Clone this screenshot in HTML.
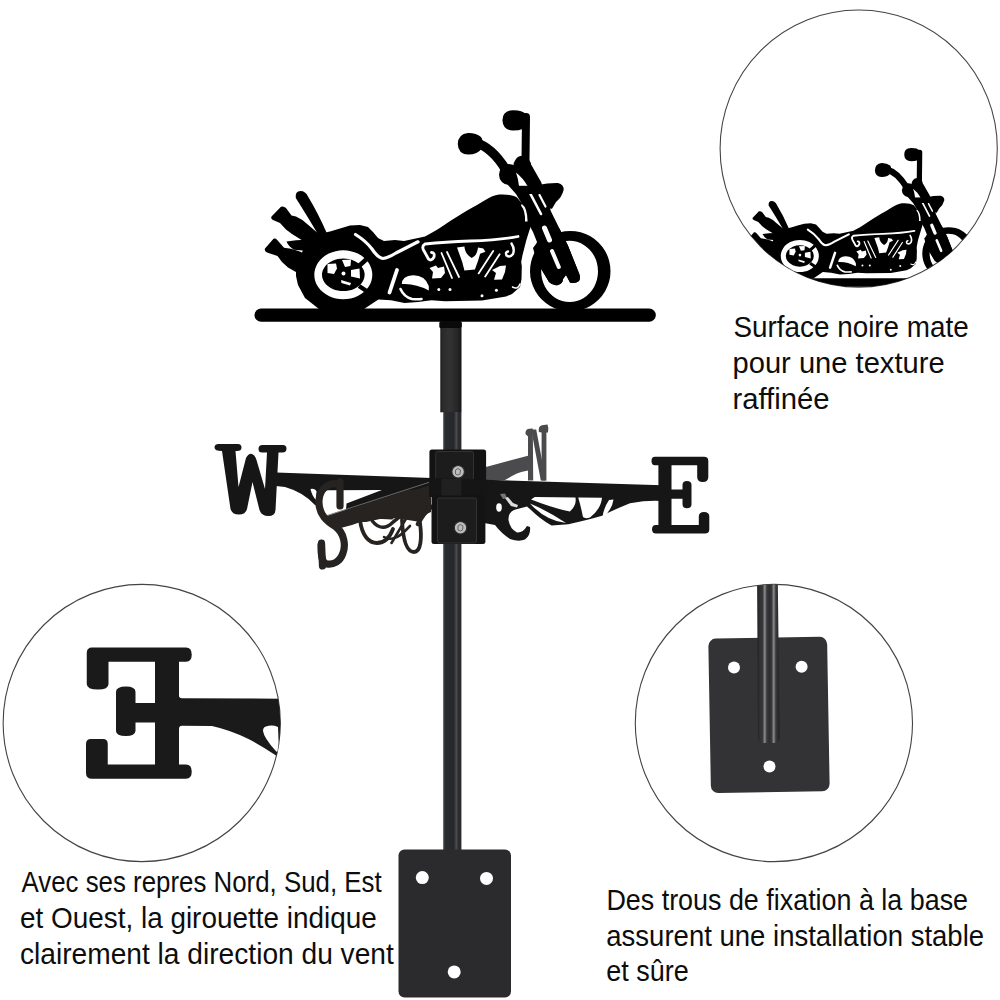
<!DOCTYPE html>
<html><head><meta charset="utf-8">
<style>
html,body{margin:0;padding:0;background:#fff;width:1000px;height:1000px;overflow:hidden}
svg{display:block}
text{font-family:"Liberation Sans",sans-serif;fill:#0d0d0d}
</style></head><body>
<svg width="1000" height="1000" viewBox="0 0 1000 1000">
<defs>
<clipPath id="c1"><circle cx="858.7" cy="148.6" r="138.6"/></clipPath>
<clipPath id="c2"><circle cx="141.75" cy="723" r="138.6"/></clipPath>
<clipPath id="c3"><circle cx="773.9" cy="723" r="138.6"/></clipPath>
</defs>

<!-- circle outlines -->
<circle cx="858.7" cy="148.6" r="138.6" fill="none" stroke="#444" stroke-width="1.1"/>
<circle cx="141.75" cy="723" r="138.6" fill="none" stroke="#444" stroke-width="1.1"/>
<circle cx="773.9" cy="723" r="138.6" fill="none" stroke="#444" stroke-width="1.1"/>

<!-- main motorcycle -->
<g>
  <rect x="254.5" y="308.6" width="401.3" height="13.2" rx="6.6" fill="#000"/>
  <g fill="#000">
    <!-- sissy bar -->
    <path d="M295.8,198 Q295,191 300.5,191 Q305.5,191 308,196.5 Q318,213 326.5,232.5 L319,236 Q306,214 295.8,198 Z"/>
    <!-- upper exhaust -->
    <path d="M271.5,216.5 L281,206.8 Q283.5,205.8 286,208 L291.5,215.5 L296,216.5 Q303,219.5 308,224.8 L318,233.2 L324,236 L314,248 L304,241.5 L292,234 L286,229.5 L280,223 L273,220 Q270.5,218.5 271.5,216.5 Z"/>
    <!-- blade -->
    <path d="M286.5,241.5 Q296,239.8 306,239.8 L314,242 L308,251 L294,249.8 Q288.5,246.5 286.5,241.5 Z"/>
    <!-- lower exhaust -->
    <path d="M265,248.5 L273.5,238.8 Q275.5,238 277,239.8 L284,247.8 L291,248.8 Q298,250.5 304,253.5 L314,260 L303,276 L288,267.5 L282,262 L277.5,256 L267,252.5 Q264,251 265,248.5 Z"/>
    <!-- main body -->
    <path d="M303,250 L310,240 L318,234 L330,231.5 L340,228.5 L350,225.5 L360,225 L368,227 L373,232 L378,238 L384,241 L395,240 L404,241 L425,236.5 C440,229 452,219 468,210 C482,203 490,195.5 499,194.5 C507,194 513,195 517,197.5 L522.5,204 L525.5,212 L526.5,222 L531.5,223 L524.4,242 L520.5,258 L521.8,266 L521.5,279 L520,287 L512,294 L506,296.5 L482,300.6 L445,301.2 L431.5,300.3 L418,302.1 L404.5,303 L391,300.3 L378.4,299.4 L364,309 L319,309 L305,298 L298,285 L296,276 L296,268 Z"/>
    <!-- grips -->
    <path d="M502.5,121 Q502,110.5 513,110.2 Q522,110 526,114 Q530,117 528,124 Q525,130.5 513,130.6 Q503,130 502.5,121 Z"/>
    <path d="M457.8,144 Q458,134 468,133 Q476,132.8 481,137 Q484,141 482,148 Q478,154.6 468,154.6 Q458,154 457.8,144 Z"/>
  </g>
  <g stroke="#000" fill="none" stroke-linecap="round">
    <path d="M526,117 L525.5,160" stroke-width="8"/>
    <path d="M475,142.5 Q492,147 506,170" stroke-width="9.5"/>
    <path d="M527,223 Q516,255 512.8,286" stroke-width="9"/>
  </g>
  <g fill="#000">
    <ellipse cx="509" cy="174.5" rx="10" ry="10.5"/>
    <ellipse cx="522.3" cy="166.8" rx="9" ry="11"/>
    <!-- headlight -->
    <path d="M538,185 Q548,182.8 558,183 Q564,184.5 563.6,190 Q562,197 556,202 L552,208.8 Q547,209 543,205 L538,196 Z"/>
    <!-- fork -->
    <path d="M500,176 L516,194 L522,204 L527.6,222 L533,232 L537,242 L535,250 L537,262 L549,282 Q553,286 558,285 Q563,283.5 563,279 L566,275 L570,282.5 Q575,284 579,281 Q581,277.5 579,273.2 L567.8,245.2 L559.4,228.4 L551,211.6 L541.2,182.2 L531.4,165 Z"/>
  </g>
  <!-- front wheel -->
  <path fill="#000" fill-rule="evenodd" d="M570.25,230.9 a40.25,40.25 0 1,0 0.01,0 Z M569.6,240.8 a28.4,30.6 0 1,0 0.01,0 Z"/>
  <!-- fork over wheel (lower legs) -->
  <path fill="#000" d="M533,248 L537,262 L549,282 Q553,286 558,285 Q563,283.5 563,279 L566,275 L570,282.5 Q575,284 579,281 Q581,277.5 579,273.2 L567.8,245.2 L559.4,228.4 L545,232 Z"/>
  <!-- fork white stripes -->
  <g stroke="#fff" fill="none" stroke-linecap="round">
    <path d="M530.5,194 L541,214" stroke-width="2.6"/>
    <path d="M539.5,195 L545.5,206.5" stroke-width="2.2"/>
    <path d="M544.5,228 L549.5,240" stroke-width="5"/>
    <path d="M552,251 L558.8,267" stroke-width="4"/>
  </g>
  <path fill="#fff" d="M521.8,204 Q527.5,208 527.6,221.5 L525,221.5 Q525.5,211 521,205.5 Z"/>
  <path fill="#fff" d="M516,172.5 Q523,178 527.5,186 L519,186 Q518,178 516,172.5 Z"/>
  <rect x="518" y="185.8" width="26" height="8.2" fill="#000"/>
  <!-- rear wheel ring -->
  <path fill="#fff" fill-rule="evenodd" d="M343.3,250.3 a29,24.5 0 1,0 0.01,0 Z M343.3,258.5 a21.3,16.3 0 1,0 0.01,0 Z"/>
  <g stroke="#000" stroke-width="4.5">
    <path d="M359.5,265.5 L369.5,256.5"/>
    <path d="M359,286 L371,294"/>
  </g>
  <!-- rear hub cutouts -->
  <g fill="#fff">
    <circle cx="343.5" cy="273.5" r="2"/>
    <path d="M342,260 L351,259.6 L350.5,266 L345,267 Z"/>
    <path d="M327.5,264 L336,263.5 L337,268.5 L334,274 L327.5,273 Z"/>
    <path d="M351,270 L359.5,268.5 L360,278.5 L351,276.5 Z"/>
    <path d="M341,280 L351,283 L350,285.5 L341.5,283 Z"/>
  </g>
  <!-- seat line, tank line, curls -->
  <g fill="none" stroke="#fff" stroke-linecap="round" stroke-linejoin="round">
    <path d="M355.5,234.5 Q366,241 372,249 Q378,258 383,258.5 Q388,258 396,253 L418,241.8" stroke-width="3.2"/>
    <path d="M518,236.5 Q500,240 470,241 Q445,241.8 425,244 Q421.5,246 423.5,250 L428.6,259.2 Q431.5,261.5 434,257 Q435,252.5 431.5,252.5" stroke-width="2.8"/>
    <path d="M511.5,243.5 Q515,249 513,254 Q510,258 506.5,255.5 Q505,252 508,251.5" stroke-width="2.4"/>
    <path d="M441.5,253 L452,278" stroke-width="1.8"/>
    <path d="M447,252 L459,277" stroke-width="1.8"/>
    <path d="M493.2,251 L478.6,273.4" stroke-width="1.8"/>
    <path d="M499.6,254.2 L485.2,276.6" stroke-width="1.8"/>
    <path d="M397,270 L389.5,292.5" stroke-width="3.8"/>
    <path d="M400.5,289 Q404,297 412,299 Q418,299.5 421.5,299" stroke-width="2.6"/>
    <path d="M512.5,287 Q518,290 520,284" stroke-width="1.6"/>
  </g>
  <g fill="#fff">
    <path d="M401.8,284 Q402,276 413,275.2 Q425,275 428.8,286 L428.8,290.4 Q415,283 401.8,284 Z"/>
    <path d="M457,247.5 L464.4,246.4 Q465,254 471.7,258 Q477,256 478,247.5 L483.3,248.5 L485.4,251.7 L480.1,253.8 L478,261.1 L474.9,269.5 L464.4,270.6 L462.3,262.2 Z"/>
    <path d="M429.5,268 L436,265.5 L438,268 L444,266.5 L445,273 L441,278 L432,278.5 L433,272 Z"/>
    <path d="M492,270 L500,266 L506,265.5 L505,272 L502,279.5 L494,279.8 L496,273 Z"/>
    <circle cx="438.8" cy="289.4" r="1.5"/>
    <circle cx="450" cy="289.4" r="1.5"/>
    <circle cx="482" cy="295.8" r="1.5"/>
    <circle cx="496.4" cy="290.2" r="1.5"/>
  </g>
  
</g>
<!-- inset motorcycle -->
<g clip-path="url(#c1)">
  <g transform="translate(574.6,75.7) scale(0.656)">
  <rect x="254.5" y="308.6" width="401.3" height="13.2" rx="6.6" fill="#000"/>
  <g fill="#000">
    <!-- sissy bar -->
    <path d="M295.8,198 Q295,191 300.5,191 Q305.5,191 308,196.5 Q318,213 326.5,232.5 L319,236 Q306,214 295.8,198 Z"/>
    <!-- upper exhaust -->
    <path d="M271.5,216.5 L281,206.8 Q283.5,205.8 286,208 L291.5,215.5 L296,216.5 Q303,219.5 308,224.8 L318,233.2 L324,236 L314,248 L304,241.5 L292,234 L286,229.5 L280,223 L273,220 Q270.5,218.5 271.5,216.5 Z"/>
    <!-- blade -->
    <path d="M286.5,241.5 Q296,239.8 306,239.8 L314,242 L308,251 L294,249.8 Q288.5,246.5 286.5,241.5 Z"/>
    <!-- lower exhaust -->
    <path d="M265,248.5 L273.5,238.8 Q275.5,238 277,239.8 L284,247.8 L291,248.8 Q298,250.5 304,253.5 L314,260 L303,276 L288,267.5 L282,262 L277.5,256 L267,252.5 Q264,251 265,248.5 Z"/>
    <!-- main body -->
    <path d="M303,250 L310,240 L318,234 L330,231.5 L340,228.5 L350,225.5 L360,225 L368,227 L373,232 L378,238 L384,241 L395,240 L404,241 L425,236.5 C440,229 452,219 468,210 C482,203 490,195.5 499,194.5 C507,194 513,195 517,197.5 L522.5,204 L525.5,212 L526.5,222 L531.5,223 L524.4,242 L520.5,258 L521.8,266 L521.5,279 L520,287 L512,294 L506,296.5 L482,300.6 L445,301.2 L431.5,300.3 L418,302.1 L404.5,303 L391,300.3 L378.4,299.4 L364,309 L319,309 L305,298 L298,285 L296,276 L296,268 Z"/>
    <!-- grips -->
    <path d="M502.5,121 Q502,110.5 513,110.2 Q522,110 526,114 Q530,117 528,124 Q525,130.5 513,130.6 Q503,130 502.5,121 Z"/>
    <path d="M457.8,144 Q458,134 468,133 Q476,132.8 481,137 Q484,141 482,148 Q478,154.6 468,154.6 Q458,154 457.8,144 Z"/>
  </g>
  <g stroke="#000" fill="none" stroke-linecap="round">
    <path d="M526,117 L525.5,160" stroke-width="8"/>
    <path d="M475,142.5 Q492,147 506,170" stroke-width="9.5"/>
    <path d="M527,223 Q516,255 512.8,286" stroke-width="9"/>
  </g>
  <g fill="#000">
    <ellipse cx="509" cy="174.5" rx="10" ry="10.5"/>
    <ellipse cx="522.3" cy="166.8" rx="9" ry="11"/>
    <!-- headlight -->
    <path d="M538,185 Q548,182.8 558,183 Q564,184.5 563.6,190 Q562,197 556,202 L552,208.8 Q547,209 543,205 L538,196 Z"/>
    <!-- fork -->
    <path d="M500,176 L516,194 L522,204 L527.6,222 L533,232 L537,242 L535,250 L537,262 L549,282 Q553,286 558,285 Q563,283.5 563,279 L566,275 L570,282.5 Q575,284 579,281 Q581,277.5 579,273.2 L567.8,245.2 L559.4,228.4 L551,211.6 L541.2,182.2 L531.4,165 Z"/>
  </g>
  <!-- front wheel -->
  <path fill="#000" fill-rule="evenodd" d="M570.25,230.9 a40.25,40.25 0 1,0 0.01,0 Z M569.6,240.8 a28.4,30.6 0 1,0 0.01,0 Z"/>
  <!-- fork over wheel (lower legs) -->
  <path fill="#000" d="M533,248 L537,262 L549,282 Q553,286 558,285 Q563,283.5 563,279 L566,275 L570,282.5 Q575,284 579,281 Q581,277.5 579,273.2 L567.8,245.2 L559.4,228.4 L545,232 Z"/>
  <!-- fork white stripes -->
  <g stroke="#fff" fill="none" stroke-linecap="round">
    <path d="M530.5,194 L541,214" stroke-width="2.6"/>
    <path d="M539.5,195 L545.5,206.5" stroke-width="2.2"/>
    <path d="M544.5,228 L549.5,240" stroke-width="5"/>
    <path d="M552,251 L558.8,267" stroke-width="4"/>
  </g>
  <path fill="#fff" d="M521.8,204 Q527.5,208 527.6,221.5 L525,221.5 Q525.5,211 521,205.5 Z"/>
  <path fill="#fff" d="M516,172.5 Q523,178 527.5,186 L519,186 Q518,178 516,172.5 Z"/>
  <rect x="518" y="185.8" width="26" height="8.2" fill="#000"/>
  <!-- rear wheel ring -->
  <path fill="#fff" fill-rule="evenodd" d="M343.3,250.3 a29,24.5 0 1,0 0.01,0 Z M343.3,258.5 a21.3,16.3 0 1,0 0.01,0 Z"/>
  <g stroke="#000" stroke-width="4.5">
    <path d="M359.5,265.5 L369.5,256.5"/>
    <path d="M359,286 L371,294"/>
  </g>
  <!-- rear hub cutouts -->
  <g fill="#fff">
    <circle cx="343.5" cy="273.5" r="2"/>
    <path d="M342,260 L351,259.6 L350.5,266 L345,267 Z"/>
    <path d="M327.5,264 L336,263.5 L337,268.5 L334,274 L327.5,273 Z"/>
    <path d="M351,270 L359.5,268.5 L360,278.5 L351,276.5 Z"/>
    <path d="M341,280 L351,283 L350,285.5 L341.5,283 Z"/>
  </g>
  <!-- seat line, tank line, curls -->
  <g fill="none" stroke="#fff" stroke-linecap="round" stroke-linejoin="round">
    <path d="M355.5,234.5 Q366,241 372,249 Q378,258 383,258.5 Q388,258 396,253 L418,241.8" stroke-width="3.2"/>
    <path d="M518,236.5 Q500,240 470,241 Q445,241.8 425,244 Q421.5,246 423.5,250 L428.6,259.2 Q431.5,261.5 434,257 Q435,252.5 431.5,252.5" stroke-width="2.8"/>
    <path d="M511.5,243.5 Q515,249 513,254 Q510,258 506.5,255.5 Q505,252 508,251.5" stroke-width="2.4"/>
    <path d="M441.5,253 L452,278" stroke-width="1.8"/>
    <path d="M447,252 L459,277" stroke-width="1.8"/>
    <path d="M493.2,251 L478.6,273.4" stroke-width="1.8"/>
    <path d="M499.6,254.2 L485.2,276.6" stroke-width="1.8"/>
    <path d="M397,270 L389.5,292.5" stroke-width="3.8"/>
    <path d="M400.5,289 Q404,297 412,299 Q418,299.5 421.5,299" stroke-width="2.6"/>
    <path d="M512.5,287 Q518,290 520,284" stroke-width="1.6"/>
  </g>
  <g fill="#fff">
    <path d="M401.8,284 Q402,276 413,275.2 Q425,275 428.8,286 L428.8,290.4 Q415,283 401.8,284 Z"/>
    <path d="M457,247.5 L464.4,246.4 Q465,254 471.7,258 Q477,256 478,247.5 L483.3,248.5 L485.4,251.7 L480.1,253.8 L478,261.1 L474.9,269.5 L464.4,270.6 L462.3,262.2 Z"/>
    <path d="M429.5,268 L436,265.5 L438,268 L444,266.5 L445,273 L441,278 L432,278.5 L433,272 Z"/>
    <path d="M492,270 L500,266 L506,265.5 L505,272 L502,279.5 L494,279.8 L496,273 Z"/>
    <circle cx="438.8" cy="289.4" r="1.5"/>
    <circle cx="450" cy="289.4" r="1.5"/>
    <circle cx="482" cy="295.8" r="1.5"/>
    <circle cx="496.4" cy="290.2" r="1.5"/>
  </g>
  
</g>
</g>

<!-- pole -->
<linearGradient id="poleg" x1="0" x2="1" y1="0" y2="0">
  <stop offset="0" stop-color="#48484c"/>
  <stop offset="0.12" stop-color="#2a2d30"/>
  <stop offset="0.58" stop-color="#26272a"/>
  <stop offset="0.72" stop-color="#4c4c50"/>
  <stop offset="0.84" stop-color="#2c2c30"/>
  <stop offset="0.94" stop-color="#2a2a2d"/>
  <stop offset="1" stop-color="#4c4c50"/>
</linearGradient>
<linearGradient id="sleeveg" x1="0" x2="1" y1="0" y2="0">
  <stop offset="0" stop-color="#1a1a1a"/>
  <stop offset="0.1" stop-color="#2a2a2a"/>
  <stop offset="0.45" stop-color="#333"/>
  <stop offset="0.8" stop-color="#262626"/>
  <stop offset="1" stop-color="#161616"/>
</linearGradient>
<rect x="439.3" y="321" width="22.6" height="7.5" rx="2" fill="#0a0a0a"/>
<rect x="440.3" y="328" width="21.2" height="84.3" fill="url(#sleeveg)"/>
<rect x="443.2" y="412" width="18.3" height="440" fill="url(#poleg)"/>

<!-- base plate -->
<rect x="398.5" y="849.5" width="112.5" height="148" rx="6" fill="#2b2b2d"/>
<circle cx="422.3" cy="877.6" r="6.5" fill="#fff"/>
<circle cx="486.5" cy="878.4" r="6.5" fill="#fff"/>
<circle cx="454.2" cy="971.9" r="6.5" fill="#fff"/>

<!-- compass -->
<g id="compass">
  <!-- N arm (far, gray) -->
  <g fill="#4b4b4d">
    <path d="M484,467.5 L528,455.8 L533,456 L533,470 Q520,471 512,476 L505,480 L484,481 Z"/>
    <path d="M528,436.5 L525.5,434 Q525,429.5 529,428.8 L532.8,428.6 L533.2,480.6 L528,480.6 Z"/>
    <path d="M531.2,429.4 L536.2,429.4 L545.8,480.6 L540.8,480.6 Z"/>
    <path d="M541.6,432.6 L538.8,432 Q538,426 542,425.2 L547.5,424.6 Q549,428 548,432.6 L546.4,432.6 L546.4,480.6 L541.6,480.6 Z"/>
  </g>
  <!-- W letter -->
  <path fill="#161616" d="M214.5,447.5 Q214.5,444 218.5,444 L238,444 Q241.5,444 241.5,447.5 Q241.5,451 237,451 L235.5,451 L238.5,487 L246,458 Q249,453 252,454 Q255,455 256.5,460 L265,489 L267,452.5 L262,452.5 Q258.5,452.5 258.5,449 Q258.5,445 262.5,445 L283,445 Q286.5,445 286.5,448.5 Q286.5,452.5 282.5,452.5 L278.5,452.5 L275.5,510 Q275,516 268.5,516 Q261.5,516 259.5,510 L252.5,482 L247,509 Q245.5,514.5 239,514.5 Q232,514.5 230.5,509 L222,451 Q214.5,451 214.5,447.5 Z"/>
  <!-- W arm -->
  <path fill="#161616" d="M276,472.6 L432,478 L432,491.5 L384,490 L327,490.3 Q320,492.5 318,506 L315,505 Q303,492 285,487 L276,486 Z"/>
  <path fill="#fff" d="M310.5,489 Q314,488 316.5,491 L316,500 Q312,496 310.5,489 Z"/>
  <!-- S arm -->
  <g fill="#262321">
    <path d="M322,517.5 L432,481.5 L432,497 L418,502 Q400,508 380,515 L352,525 L335,529.5 Z"/>
  </g>
  <path fill="#161616" d="M384.5,489 L431,489.5 L431,482.5 L346,510 L346.5,503.5 Z"/>
  <path d="M322.5,517 L430,482" stroke="#707070" stroke-width="0.9" fill="none"/>
  <g fill="none" stroke="#262321" stroke-linecap="round" stroke-width="7.2">
    <path d="M338,484 C330,482 320,488 319,500 C318,515 328,522 336,527 C344,533 346,545 343,553 C340,562 333,565 327,564 C322,563 321,556 321,545"/>
    <path d="M340,481.5 L340,506"/>
    <path d="M321.5,543 L322.5,566"/>
  </g>
  <path fill="#262321" d="M352,508 L431,485 L431,512 Q424,514 420,522 L402,519 Q392,517 380,519 L366,522 L358,522 Z"/>
  <g fill="none" stroke="#262321" stroke-linecap="round">
    <path d="M360,520 C362,536 369,543 377,543 C385,543 390,537 393,529" stroke-width="3.8"/>
    <path d="M370,517 C375,527 384,531 392,523 C396,519 401,516 406,514" stroke-width="3.4"/>
    <path d="M391.5,543 L416,502" stroke-width="2.6"/>
    <path d="M402,520 C403,540 407,552 414,552 C421,552 422,538 420,523" stroke-width="3.8"/>
    <path d="M384,537 C390,541 398,538 405,531 L410,526" stroke-width="2.6"/>
    <path d="M418,524 C422,516 426,511 431,507" stroke-width="4.5"/>
    <path d="M360,519 L372,517 L392,518" stroke-width="3"/>
  </g>
  <!-- E letter -->
  <path fill="#161616" d="M655,456.8 L704,456.8 Q708.3,456.8 708.3,461 L708.3,477 Q708.3,482 702.8,482 Q697.2,482 697.2,477 L697.2,465.2 L671.5,465.2 L671.5,489.4 L682.5,489.4 L682.5,485 Q682.5,481 687,481 Q691.5,481 691.5,485 L691.5,504 Q691.5,508.3 687,508.3 Q682.5,508.3 682.5,504 L682.5,498.8 L671.5,498.8 L671.5,525 L698.8,525 L698.8,516.5 Q698.8,512 704,512 Q709.3,512 709.3,516.5 L709.3,529.5 Q709.3,533.5 705,533.5 L656,533.5 Q652,533.5 652,529.3 Q652,525 656,525 L658.4,525 L658.4,465.2 L655,465.2 Q651.5,465.2 651.5,461 Q651.5,456.8 655,456.8 Z"/>
  <!-- E arm + filigree -->
  <path fill="#161616" d="M484,479.8 L662,485.3 L662,501 Q648,500 630,503.2 Q616,508.8 602,515.8 Q588,520 568.4,524.2 L551.6,525.6 Q540,519 531,510 L527,506.5 Q520,508 514,510 Q508,513 508.5,520 Q510,529 517,532.5 Q523,533 527,526 L530,527 Q531,535 525,539.5 Q519,542 510,539 Q501,533 495,525 L484,523 Z"/>
  <g fill="#fff">
    <path d="M534.8,496.9 L575.4,497.6 Q577,505 569.8,511.6 Q553,508 531,499.5 Z"/>
    <path d="M530,503.5 Q548,511 566,523 Q546,521 530,503.5 Z"/>
    <path d="M578.2,497.6 L602,497.8 Q601,509 590,517.5 Q585,519 583,517 Q581,507 578.2,497.6 Z"/>
    <path d="M609,500 L613.5,499.5 Q612,510 602.5,518 Q603,509 609,500 Z"/>
    <ellipse cx="499" cy="507.5" rx="2.8" ry="4.2"/>
  </g>
  <path fill="#777" d="M500,494 L505,493.5 L507,498 L503,499 Z"/>
  <path fill="#ddd" d="M505,498 L508,497 L513,503 L518,505 L517,507.5 L511,506 Z"/>
  <!-- mount blocks -->
  <rect x="429.4" y="449.4" width="56.7" height="30.8" rx="2.5" fill="#131313"/>
  <rect x="435.7" y="451.5" width="37.8" height="28" rx="2" fill="#1c1c1c" stroke="#3a3a3a" stroke-width="0.8"/>
  <path d="M429,478 L487,479.5 L487,497 L429,497 Z" fill="#151515"/>
  <rect x="441.5" y="479" width="20" height="18" fill="#202020"/>
  <rect x="431.5" y="495.6" width="53.9" height="48.4" rx="2.5" fill="#131313"/>
  <rect x="437.5" y="498" width="39" height="45" rx="2" fill="#1c1c1c" stroke="#3a3a3a" stroke-width="0.8"/>
  <circle cx="458.1" cy="471.8" r="6.3" fill="#bdbdbd" stroke="#2a2a2a" stroke-width="1.2"/>
  <circle cx="460.5" cy="527.8" r="6.3" fill="#bdbdbd" stroke="#2a2a2a" stroke-width="1.2"/>
  <path d="M455.5,470 Q458,467 460.5,470 L460,474 Q458,476 455.5,474 Z" fill="none" stroke="#666" stroke-width="1"/>
  <path d="M458,526 Q460.5,523 463,526 L462.5,530 Q460.5,532 458,530 Z" fill="none" stroke="#666" stroke-width="1"/>
</g>

<!-- circle 2 inset: reversed E -->
<g clip-path="url(#c2)" fill="#1a1a1a">
  <path d="M86.75,653 Q86.75,647.5 92,647.5 L186,647.5 Q191.75,647.5 191.75,654.6 Q191.75,661.75 186,661.75 L179,661.75 L179,695.5 Q179,698.2 182,698.2 L300,698.8 L300,760 L276,755.6 Q262,746 248,738.8 Q230,730 212,726 L182,725.8 Q179,725.8 179,729 L179,764.5 L186,764.5 Q191.75,764.5 191.75,771.6 Q191.75,778.75 186,778.75 L92,778.75 Q86,778.75 86,773 L86,744 Q86,739 91,739 L103,739 Q107.75,739 107.75,744 L107.75,764.5 L155,764.5 L155,722.5 L135.5,722.5 L135.5,731 Q135,736 126,736 Q116,736 116,731 L116,692 Q116,686.5 126,686.5 Q135.5,686.5 135.5,692 L135.5,703 L155,703 L155,661.75 L108.5,661.75 L108.5,684 Q108.5,689.5 98,689.5 Q86.75,689.5 86.75,684 Z"/>
  <path fill="#fff" d="M266,726.5 Q272,724.5 278,727 L279,752 Q276,752 275.6,750.8 Q264,738 263,731 Q263,727 266,726.5 Z"/>
</g>

<!-- circle 3 inset: base plate -->
<g clip-path="url(#c3)">
  <rect x="709.6" y="637.7" width="118.8" height="154.5" rx="7.5" fill="#333336" transform="rotate(-1 769 714.95)"/>
  <circle cx="734" cy="667.4" r="6" fill="#fff"/>
  <circle cx="801.6" cy="666.8" r="6" fill="#fff"/>
  <circle cx="769.5" cy="766.4" r="6" fill="#fff"/>
  <defs>
    <linearGradient id="pg" x1="0" x2="1" y1="0" y2="0">
      <stop offset="0" stop-color="#1e1e20"/>
      <stop offset="0.08" stop-color="#2c2c2e"/>
      <stop offset="0.25" stop-color="#3a3a3c"/>
      <stop offset="0.34" stop-color="#8e8e90"/>
      <stop offset="0.43" stop-color="#3a3a3c"/>
      <stop offset="0.55" stop-color="#2e2e30"/>
      <stop offset="0.65" stop-color="#3a3a3c"/>
      <stop offset="0.74" stop-color="#8e8e90"/>
      <stop offset="0.83" stop-color="#3a3a3c"/>
      <stop offset="0.92" stop-color="#2c2c2e"/>
      <stop offset="1" stop-color="#1e1e20"/>
    </linearGradient>
  </defs>
  <path d="M757.1,580 L777.8,580 L779.6,738 Q779.6,743 774,743 L764,743 Q758,743 758,738 Z" fill="url(#pg)"/>
</g>

<!-- captions -->
<g font-size="28.6">
<text x="733.50" y="337" textLength="235.19" lengthAdjust="spacingAndGlyphs">Surface noire mate</text>
<text x="732.50" y="372.5" textLength="212.09" lengthAdjust="spacingAndGlyphs">pour une texture</text>
<text x="732.50" y="408.5" textLength="97.08" lengthAdjust="spacingAndGlyphs">raffinée</text>
<text x="21.50" y="892" textLength="360.11" lengthAdjust="spacingAndGlyphs">Avec ses repres Nord, Sud, Est</text>
<text x="20.00" y="927.5" textLength="356.69" lengthAdjust="spacingAndGlyphs">et Ouest, la girouette indique</text>
<text x="20.00" y="963.5" textLength="373.79" lengthAdjust="spacingAndGlyphs">clairement la direction du vent</text>
<text x="606.40" y="909.7" textLength="361.68" lengthAdjust="spacingAndGlyphs">Des trous de fixation à la base</text>
<text x="606.30" y="945.5" textLength="377.80" lengthAdjust="spacingAndGlyphs">assurent une installation stable</text>
<text x="606.30" y="981.4" textLength="82.46" lengthAdjust="spacingAndGlyphs">et sûre</text>
</g>
</svg>
</body></html>
